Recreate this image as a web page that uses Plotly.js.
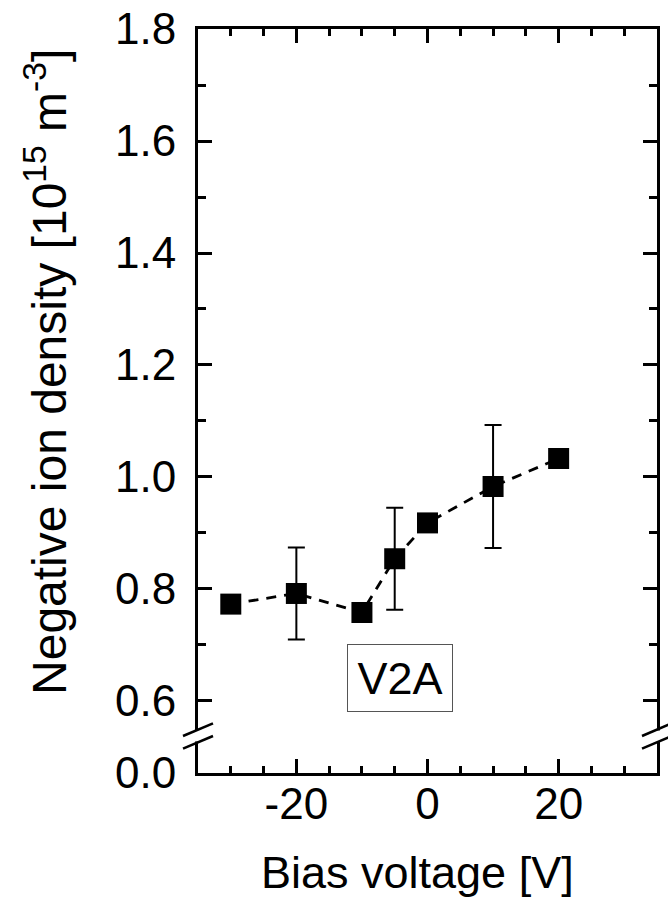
<!DOCTYPE html>
<html>
<head>
<meta charset="utf-8">
<script src="https://cdn.plot.ly/plotly-3.0.1.min.js"></script>
<style>html,body{margin:0;padding:0;background:#fff;}#chart{width:668px;height:916px;}</style>
</head>
<body>
<div id="chart"></div>
<script>
// Data
const biasVoltage = [-30, -20, -10, -5, 0, 10, 20];
const ionDensity = [0.773, 0.792, 0.758, 0.854, 0.918, 0.983, 1.033];
const ionDensityErr = [0, 0.082, 0, 0.091, 0, 0.110, 0];

// Axis ticks (y axis is broken: lower segment shows 0.0)
const xTickVals = [-20, 0, 20];
const xTickText = ["-20", "0", "20"];
const xMinorVals = [-30, -25, -15, -10, -5, 5, 10, 15, 25, 30];
const yBreakBottom = 0.4714;   // value at the bottom of the axis, labelled 0.0
const yTickVals = [yBreakBottom, 0.6, 0.8, 1.0, 1.2, 1.4, 1.6, 1.8];
const yTickText = ["0.0", "0.6", "0.8", "1.0", "1.2", "1.4", "1.6", "1.8"];
const yMinorVals = [0.7, 0.9, 1.1, 1.3, 1.5, 1.7];
const yBreakAt = 0.5375;
const labelText = "V2A";
const xTitle = "Bias voltage [V]";
const yTitle = "Negative ion density [10<sup>15</sup> m<sup>-3</sup>]";

const FONT = "Liberation Sans, Arial, Helvetica, sans-serif";

const trace = {
  x: biasVoltage,
  y: ionDensity,
  type: 'scatter',
  mode: 'lines+markers',
  line: {color: '#000', width: 2.8, dash: '10px,8px'},
  marker: {symbol: 'square', size: 21, color: '#000'},
  error_y: {type: 'data', array: ionDensityErr, visible: true, color: '#000', thickness: 2, width: 8.5},
  showlegend: false,
  cliponaxis: false
};

function breakShapes(xp) {
  return [
    {type: 'rect', layer: 'above', xref: 'paper', yref: 'y', xsizemode: 'pixel', ysizemode: 'pixel',
     xanchor: xp, yanchor: yBreakAt, x0: -3, x1: 3, y0: -5.5, y1: 5.5,
     fillcolor: '#fff', line: {width: 0}},
    {type: 'line', layer: 'above', xref: 'paper', yref: 'y', xsizemode: 'pixel', ysizemode: 'pixel',
     xanchor: xp, yanchor: yBreakAt, x0: -15, x1: 15, y0: 0, y1: 12.7,
     line: {color: '#000', width: 2.5}},
    {type: 'line', layer: 'above', xref: 'paper', yref: 'y', xsizemode: 'pixel', ysizemode: 'pixel',
     xanchor: xp, yanchor: yBreakAt, x0: -15, x1: 15, y0: -12.7, y1: 0,
     line: {color: '#000', width: 2.5}}
  ];
}

const layout = {
  width: 668, height: 916,
  margin: {l: 198, r: 11, t: 29, b: 143},
  paper_bgcolor: '#fff', plot_bgcolor: '#fff',
  font: {family: FONT, color: '#000', size: 44},
  xaxis: {
    range: [-35, 35],
    tickmode: 'array', tickvals: xTickVals, ticktext: xTickText,
    ticks: 'inside', ticklen: 14, tickwidth: 3, tickcolor: '#000',
    minor: {tickmode: 'array', tickvals: xMinorVals, ticks: 'inside', ticklen: 7, tickwidth: 3, tickcolor: '#000', showgrid: false},
    showline: true, linewidth: 3, linecolor: '#000', mirror: 'ticks',
    showgrid: false, zeroline: false,
    tickfont: {size: 44, family: FONT},
    ticklabelstandoff: -10,
    automargin: false
  },
  yaxis: {
    range: [yBreakBottom, 1.8],
    tickmode: 'array', tickvals: yTickVals, ticktext: yTickText,
    ticks: 'inside', ticklen: 14, tickwidth: 3, tickcolor: '#000',
    minor: {tickmode: 'array', tickvals: yMinorVals, ticks: 'inside', ticklen: 8, tickwidth: 3, tickcolor: '#000', showgrid: false},
    showline: true, linewidth: 3, linecolor: '#000', mirror: 'ticks',
    showgrid: false, zeroline: false,
    tickfont: {size: 44, family: FONT},
    ticklabelstandoff: 10,
    automargin: false
  },
  annotations: [
    {
      x: -4.2, y: 0.641, xref: 'x', yref: 'y',
      text: labelText, showarrow: false,
      font: {size: 45, family: FONT, color: '#000'},
      bordercolor: '#555', borderwidth: 1, borderpad: 3,
      width: 98, height: 60, bgcolor: '#fff'
    },
    {
      x: 0.5, xref: 'paper', xshift: -10, xanchor: 'center',
      y: 0, yref: 'paper', yshift: -99, yanchor: 'middle',
      text: xTitle, showarrow: false,
      font: {size: 45, family: FONT, color: '#000'}
    },
    {
      x: 0, xref: 'paper', xshift: -152, xanchor: 'center',
      y: 0.539, yref: 'paper', yanchor: 'middle',
      text: yTitle, textangle: -90, showarrow: false,
      font: {size: 48, family: FONT, color: '#000'}
    }
  ],
  shapes: [].concat(breakShapes(0), breakShapes(1))
};

Plotly.newPlot('chart', [trace], layout, {displayModeBar: false});
</script>
</body>
</html>
